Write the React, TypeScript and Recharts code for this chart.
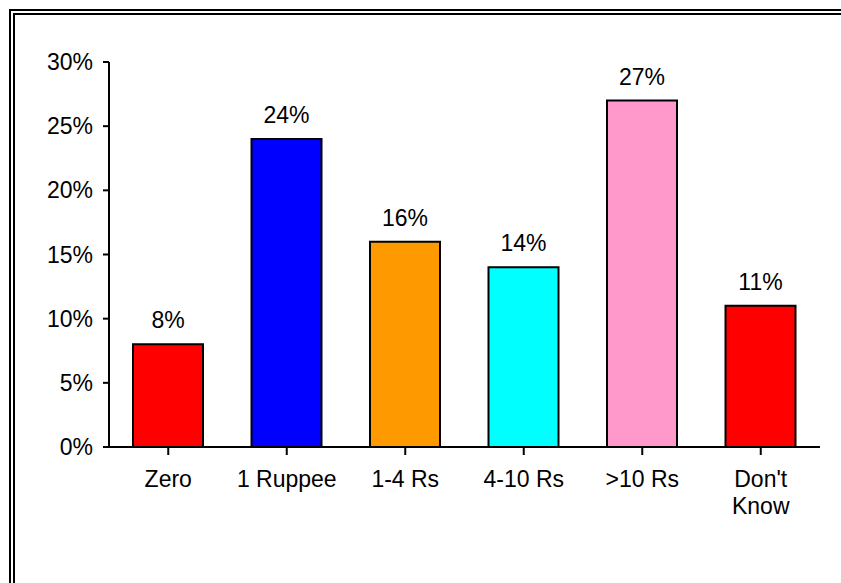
import React from "react";
import { BarChart, Bar, XAxis, YAxis, Cell, LabelList } from "recharts";

const categories = ["Zero", "1 Ruppee", "1-4 Rs", "4-10 Rs", ">10 Rs", "Don't Know"];
const values = [8, 24, 16, 14, 27, 11];
const colors = ["#FF0000", "#0000FF", "#FF9900", "#00FFFF", "#FF99CC", "#FF0000"];
const yTicks = [0, 5, 10, 15, 20, 25, 30];

const data = categories.map((c, i) => ({ name: c, value: values[i] }));

const FONT = "'Liberation Sans', Arial, sans-serif";
const FS = 23;
const MAX_CHARS = 9;

const XTick = (props: any) => {
  const { x, y, payload } = props;
  const label: string = String(payload.value);
  const lines = label.length > MAX_CHARS ? label.split(" ") : [label];
  return (
    <text x={x} y={y} textAnchor="middle" fontSize={FS} fontFamily={FONT} fill="#000">
      {lines.map((l, i) => (
        <tspan key={i} x={x} dy={i === 0 ? "0.71em" : 27}>
          {l}
        </tspan>
      ))}
    </text>
  );
};

export default function App() {
  return (
    <div
      style={{
        position: "fixed",
        left: 0,
        top: 0,
        width: 841,
        height: 583,
        overflow: "hidden",
        background: "#fff",
      }}
    >
      <div
        style={{
          position: "absolute",
          left: 9,
          top: 9,
          width: 900,
          height: 650,
          border: "6px double #000",
          boxSizing: "border-box",
        }}
      />
      <div style={{ position: "absolute", left: 0, top: 0 }}>
        <BarChart
          width={841}
          height={583}
          data={data}
          margin={{ top: 62, right: 21, bottom: 0, left: 0 }}
        >
          <XAxis
            dataKey="name"
            height={136}
            stroke="#000"
            strokeWidth={2}
            tickSize={8}
            tickMargin={16}
            tick={<XTick />}
            interval={0}
          />
          <YAxis
            width={109}
            domain={[0, 30]}
            ticks={yTicks}
            tickFormatter={(v: number) => `${v}%`}
            stroke="#000"
            strokeWidth={2}
            tickSize={6}
            tickMargin={10}
            tick={{ fill: "#000", fontSize: FS, fontFamily: FONT }}
            interval={0}
          />
          <Bar dataKey="value" barSize={70} stroke="#000" strokeWidth={2} isAnimationActive={false}>
            {data.map((d, i) => (
              <Cell key={d.name} fill={colors[i]} />
            ))}
            <LabelList
              dataKey="value"
              position="top"
              offset={16}
              formatter={(v: any) => `${v}%`}
              style={{ fill: "#000", fontSize: FS, fontFamily: FONT }}
            />
          </Bar>
        </BarChart>
      </div>
    </div>
  );
}
